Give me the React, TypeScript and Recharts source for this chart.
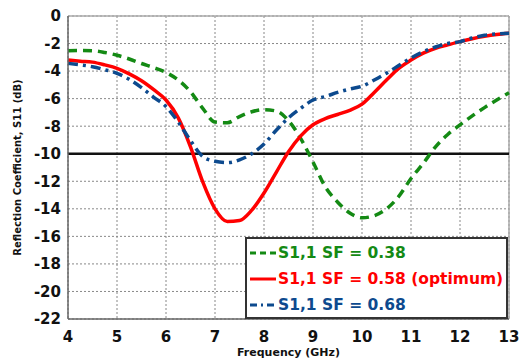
import {
  LineChart,
  Line,
  XAxis,
  YAxis,
  CartesianGrid,
  ReferenceLine,
  Label,
} from 'recharts';

const freq = [
  4, 4.25, 4.5, 4.75, 5, 5.25, 5.5, 5.75, 6, 6.25, 6.5, 6.75, 7, 7.25, 7.5, 7.75, 8, 8.25, 8.5,
  8.75, 9, 9.25, 9.5, 9.75, 10, 10.25, 10.5, 10.75, 11, 11.25, 11.5, 11.75, 12, 12.25, 12.5, 12.75,
  13,
];

const sf038 = [
  -2.52, -2.5, -2.52, -2.65, -2.85, -3.12, -3.45, -3.75, -4.1, -4.65, -5.5, -6.7, -7.7, -7.75,
  -7.3, -6.95, -6.8, -6.9, -7.6, -8.9, -10.6, -12.4, -13.5, -14.3, -14.65, -14.5, -14.0, -13.1,
  -11.8, -10.7, -9.5, -8.6, -7.9, -7.25, -6.65, -6.1, -5.57,
];

const sf058 = [
  -3.2, -3.28, -3.35, -3.55, -3.8, -4.2, -4.7, -5.35, -6.1, -7.4, -9.5, -12.05, -14.0, -14.92,
  -14.85, -14.1, -12.85, -11.35, -9.85, -8.7, -7.9, -7.45, -7.15, -6.85, -6.4, -5.55, -4.65, -3.8,
  -3.2, -2.7, -2.35, -2.1, -1.86, -1.65, -1.48, -1.35, -1.26,
];

const sf068 = [
  -3.44, -3.55, -3.68, -3.9, -4.16, -4.6, -5.2, -5.9, -6.58, -7.7, -9.05, -10.2, -10.55, -10.65,
  -10.45, -10.0, -9.3, -8.3, -7.4, -6.7, -6.1, -5.85, -5.55, -5.3, -5.1, -4.65, -4.15, -3.6,
  -3.05, -2.6, -2.25, -2.0, -1.86, -1.6, -1.4, -1.3, -1.26,
];

const xTicks = [4, 5, 6, 7, 8, 9, 10, 11, 12, 13];
const yTicks = [0, -2, -4, -6, -8, -10, -12, -14, -16, -18, -20, -22];

const GREEN = '#148a14';
const RED = '#ff0000';
const BLUE = '#0d4a8e';
const FONT = '"DejaVu Sans", Verdana, sans-serif';

const data = freq.map((f, i) => ({ f, a: sf038[i], b: sf058[i], c: sf068[i] }));

const legendItems = [
  { label: 'S1,1 SF = 0.38', color: GREEN, dash: '6 4' },
  { label: 'S1,1 SF = 0.58 (optimum)', color: RED, dash: undefined },
  { label: 'S1,1 SF = 0.68', color: BLUE, dash: '7 4 2 4' },
];

function LegendBox() {
  return (
    <div
      style={{
        position: 'absolute',
        left: 245,
        top: 237,
        width: 259,
        height: 77,
        border: '2px solid #333',
        background: '#fff',
        fontFamily: FONT,
        fontWeight: 'bold',
        fontSize: 15.5,
        paddingTop: 1,
        boxSizing: 'content-box',
      }}
    >
      {legendItems.map((it) => (
        <div key={it.label} style={{ display: 'flex', alignItems: 'center', height: 26 }}>
          <svg width={28} height={10} style={{ marginLeft: 3 }}>
            <line
              x1={0}
              y1={5}
              x2={26}
              y2={5}
              stroke={it.color}
              strokeWidth={3}
              strokeDasharray={it.dash}
            />
          </svg>
          <span style={{ color: it.color, whiteSpace: 'nowrap' }}>{it.label}</span>
        </div>
      ))}
    </div>
  );
}

export default function App() {
  const tick = { fontFamily: FONT, fontWeight: 'bold', fontSize: 15, fill: '#111' };
  return (
    <div style={{ position: 'absolute', left: 0, top: 0, width: 525, height: 358, background: '#fff' }}>
      <LineChart
        width={525}
        height={358}
        data={data}
        margin={{ top: 16, right: 16, bottom: 0, left: 0 }}
      >
        <CartesianGrid stroke="#888" strokeDasharray="2 2" />
        <XAxis
          dataKey="f"
          type="number"
          domain={[4, 13]}
          ticks={xTicks}
          interval={0}
          tick={tick}
          tickLine={false}
          tickMargin={6}
          height={39}
          stroke="#666"
          strokeWidth={1.5}
        >
          <Label
            value="Frequency (GHz)"
            position="insideBottom"
            offset={2}
            style={{ fontFamily: FONT, fontWeight: 'bold', fontSize: 11, fill: '#111' }}
          />
        </XAxis>
        <YAxis
          type="number"
          domain={[-22, 0]}
          ticks={yTicks}
          interval={0}
          tick={tick}
          tickLine={false}
          tickMargin={1}
          width={68}
          stroke="#666"
          strokeWidth={1.5}
        >
          <Label
            value="Reflection Coefficient, S11 (dB)"
            angle={-90}
            position="insideLeft"
            offset={17}
            style={{
              fontFamily: FONT,
              fontWeight: 'bold',
              fontSize: 10,
              fill: '#111',
              textAnchor: 'middle',
            }}
          />
        </YAxis>
        <ReferenceLine y={0} stroke="#aaa" strokeWidth={1.5} />
        <ReferenceLine x={13} stroke="#aaa" strokeWidth={1.5} />
        <ReferenceLine y={-10} stroke="#111" strokeWidth={2.5} />
        <Line
          type="monotone"
          dataKey="a"
          stroke={GREEN}
          strokeWidth={3.5}
          strokeDasharray="9 6"
          dot={false}
          isAnimationActive={false}
        />
        <Line
          type="monotone"
          dataKey="b"
          stroke={RED}
          strokeWidth={3.5}
          dot={false}
          isAnimationActive={false}
        />
        <Line
          type="monotone"
          dataKey="c"
          stroke={BLUE}
          strokeWidth={3.5}
          strokeDasharray="10 5 3 5"
          dot={false}
          isAnimationActive={false}
        />
      </LineChart>
      <LegendBox />
    </div>
  );
}
